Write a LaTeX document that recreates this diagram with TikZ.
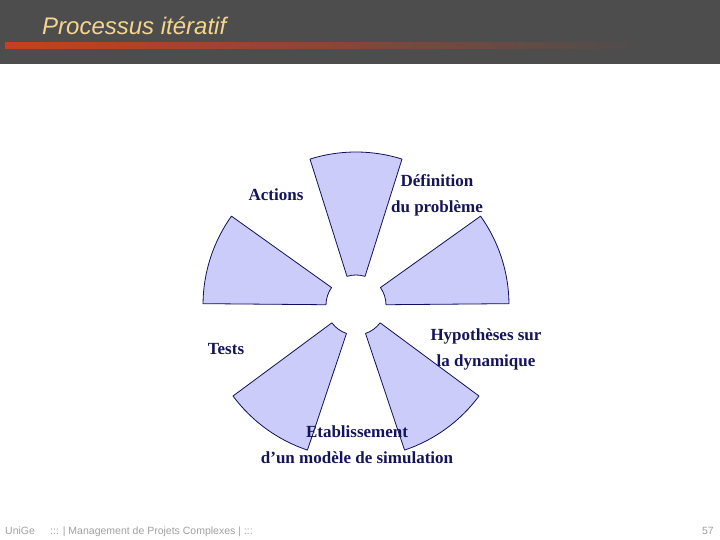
\documentclass[tikz,border=0pt]{standalone}
\usepackage{fontspec}
\setmainfont{Liberation Serif}
\newfontfamily\arialfont{Liberation Sans}
\definecolor{band}{HTML}{4D4D4D}
\definecolor{linered}{HTML}{C8401E}
\definecolor{titlecol}{HTML}{F5D58C}
\definecolor{secfill}{HTML}{CCCCFA}
\definecolor{secline}{HTML}{10105A}
\definecolor{txtcol}{HTML}{14145A}
\definecolor{footcol}{HTML}{A0A0A0}
\tikzset{
  sector/.style={fill=secfill, draw=secline, line width=0.8pt, line join=round},
  lbl/.style={text=txtcol, font=\bfseries\fontsize{17}{26}\selectfont, align=center, inner sep=0pt},
  foot/.style={text=footcol, font=\arialfont\fontsize{10.5}{12}\selectfont, inner sep=0pt}
}
\begin{document}
\begin{tikzpicture}[x=1pt,y=1pt]
\useasboundingbox (0,0) rectangle (720,540);
% header
\fill[band] (0,476) rectangle (720,540);
\shade[left color=linered, middle color=linered!45!band, right color=band] (5,491) rectangle (640,497);
\node[anchor=base west, inner sep=0pt, text=titlecol, font=\arialfont\itshape\fontsize{24}{28}\selectfont] (title) at (42,505) {Processus itératif};
% sectors
\begin{scope}[shift={(356,235)}]
\foreach \a in {0.5,72.5,144.5,216.5,288.5}{
  \filldraw[sector] (\a:30) arc[start angle=\a, end angle=\a+35, radius=30]
     -- (\a+35:153) arc[start angle=\a+35, end angle=\a, radius=153] -- cycle;
}
\end{scope}
% labels
\node[lbl] (actions) at (276,345) {Actions};
\node[lbl] (definition) at (437,345) {Définition\\du problème};
\node[lbl] (hypo) at (486,191) {Hypothèses sur\\la dynamique};
\node[lbl] (tests) at (226,191) {Tests};
\node[lbl] (etab) at (357,95) {Etablissement\\d’un modèle de simulation};
% footer
\node[foot, anchor=base west] (uni) at (5,5) {UniGe};
\node[foot, anchor=base west] (mgmt) at (50,5) {::: | Management de Projets Complexes | :::};
\node[foot, anchor=base east] (page) at (714,5) {57};
\end{tikzpicture}
\end{document}
